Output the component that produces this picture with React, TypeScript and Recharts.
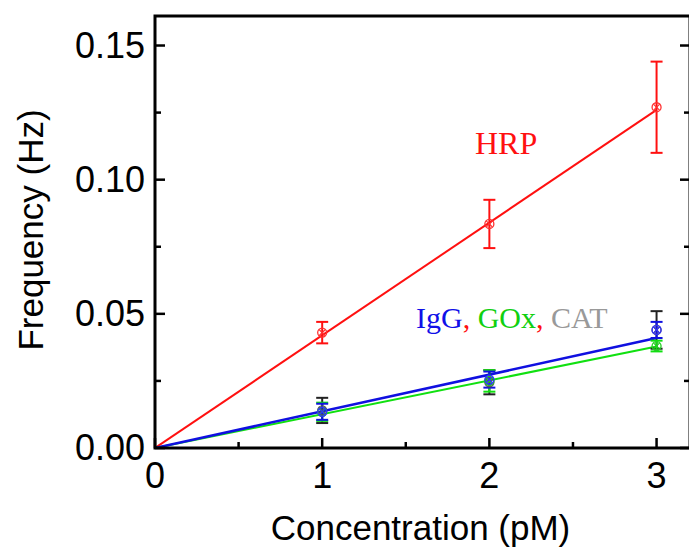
import React from 'react';
import { ComposedChart, Line, Scatter, ErrorBar, XAxis, YAxis, Label } from 'recharts';

// measured points (concentration in pM, frequency in Hz)
const conc = [1, 2, 3];
const hrpVals = [0.043, 0.0835, 0.127];
const hrpErr = [0.004, 0.009, 0.017];
const iggVals = [0.0135, 0.0255, 0.044];
const iggErr = [0.003, 0.003, 0.003];
const goxVals = [0.0135, 0.025, 0.038];
const goxErr = [0.0034, 0.004, 0.002];
const catVals = [0.014, 0.0245, 0.044];
const catErr = [0.0047, 0.0045, 0.007];

// linear fits
const fitX = [0, 3];
const hrpFit = [0, 0.126];
const iggFit = [0, 0.041];
const goxFit = [0, 0.0378];

const xDomain: [number, number] = [0, 3.2];
const yDomain: [number, number] = [0, 0.161];
const xTicks = [0, 0.5, 1, 1.5, 2, 2.5, 3];
const yTicks = [0, 0.025, 0.05, 0.075, 0.1, 0.125, 0.15];

const pts = (vals: number[], errs: number[]) => conc.map((x, i) => ({ x, y: vals[i], err: errs[i] }));
const fit = (vals: number[]) => fitX.map((x, i) => ({ x, y: vals[i] }));

const hrpData = pts(hrpVals, hrpErr);
const iggData = pts(iggVals, iggErr);
const goxData = pts(goxVals, goxErr);
const catData = pts(catVals, catErr);

const FONT = '"Liberation Sans", Arial, sans-serif';
const SERIF = '"Liberation Serif", "Times New Roman", serif';

const isMajorX = (v: number) => Math.abs(v - Math.round(v)) < 1e-6;
const isMajorY = (v: number) => Math.round(v * 1000) % 50 === 0;

const BottomTick = (props: any) => {
  const { x, y, payload } = props;
  const major = isMajorX(payload.value);
  return (
    <g>
      <line x1={x} y1={y} x2={x} y2={y - (major ? 10 : 6)} stroke="#000" strokeWidth={2.5} />
      {major && (
        <text x={x} y={y + 40} textAnchor="middle" fontSize={36} fontFamily={FONT} fill="#000">
          {payload.value}
        </text>
      )}
    </g>
  );
};

const TopTick = (props: any) => {
  const { x, y, payload } = props;
  const major = isMajorX(payload.value);
  return <line x1={x} y1={y} x2={x} y2={y + (major ? 10 : 6)} stroke="#000" strokeWidth={2.5} />;
};

const LeftTick = (props: any) => {
  const { x, y, payload } = props;
  const major = isMajorY(payload.value);
  return (
    <g>
      <line x1={x} y1={y} x2={x + (major ? 10 : 6)} y2={y} stroke="#000" strokeWidth={2.5} />
      {major && (
        <text x={x - 10} y={y + 12} textAnchor="end" fontSize={36} fontFamily={FONT} fill="#000">
          {payload.value.toFixed(2)}
        </text>
      )}
    </g>
  );
};

const RightTick = (props: any) => {
  const { x, y, payload } = props;
  const major = isMajorY(payload.value);
  return <line x1={x} y1={y} x2={x - (major ? 10 : 6)} y2={y} stroke="#000" strokeWidth={2.5} />;
};

const marker = (color: string) => (props: any) => {
  const { cx, cy } = props;
  const r = 4.5;
  const d = r * 0.7;
  return (
    <g>
      <circle cx={cx} cy={cy} r={r} fill="none" stroke={color} strokeWidth={1.3} />
      <line x1={cx - d} y1={cy - d} x2={cx + d} y2={cy + d} stroke={color} strokeWidth={1.2} />
      <line x1={cx - d} y1={cy + d} x2={cx + d} y2={cy - d} stroke={color} strokeWidth={1.2} />
    </g>
  );
};

const axisProps = {
  type: 'number' as const,
  allowDataOverflow: true,
  axisLine: false,
  tickLine: false,
  tickSize: 0,
  tickMargin: 0,
  interval: 0 as const,
};

export default function App() {
  return (
    <div style={{ position: 'absolute', left: 0, top: 0, width: 689, height: 551, overflow: 'hidden', background: '#fff' }}>
      <ComposedChart width={700} height={551} margin={{ top: 15, right: 9, bottom: 0, left: 0 }}>
        <XAxis {...axisProps} xAxisId="b" dataKey="x" domain={xDomain} ticks={xTicks} height={103} tick={<BottomTick />}>
          <Label
            content={({ viewBox }: any) => (
              <text
                x={viewBox.x + viewBox.width / 2 - 2}
                y={viewBox.y + 92}
                textAnchor="middle"
                fontSize={35}
                fontFamily={FONT}
                fill="#000"
              >
                Concentration (pM)
              </text>
            )}
          />
        </XAxis>
        <XAxis {...axisProps} xAxisId="t" orientation="top" domain={xDomain} ticks={xTicks} height={1} tick={<TopTick />} />
        <YAxis {...axisProps} yAxisId="l" dataKey="y" domain={yDomain} ticks={yTicks} width={155} tick={<LeftTick />}>
          <Label
            content={({ viewBox }: any) => {
              const cx = 30;
              const cy = viewBox.y + viewBox.height / 2 - 2;
              return (
                <text
                  x={cx}
                  y={cy}
                  transform={`rotate(-90, ${cx}, ${cy})`}
                  textAnchor="middle"
                  dominantBaseline="central"
                  fontSize={35}
                  fontFamily={FONT}
                  fill="#000"
                >
                  Frequency (Hz)
                </text>
              );
            }}
          />
        </YAxis>
        <YAxis {...axisProps} yAxisId="r" orientation="right" domain={yDomain} ticks={yTicks} width={1} tick={<RightTick />} />

        <Line xAxisId="b" yAxisId="l" data={fit(hrpFit)} dataKey="y" stroke="#ff1010" strokeWidth={2} dot={false} isAnimationActive={false} />
        <Line xAxisId="b" yAxisId="l" data={fit(goxFit)} dataKey="y" stroke="#10e010" strokeWidth={2} dot={false} isAnimationActive={false} />
        <Line xAxisId="b" yAxisId="l" data={fit(iggFit)} dataKey="y" stroke="#1010e0" strokeWidth={2.5} dot={false} isAnimationActive={false} />

        <Scatter xAxisId="b" yAxisId="l" data={hrpData} dataKey="y" shape={marker('#ff3030')} isAnimationActive={false}>
          <ErrorBar dataKey="err" direction="y" width={6} stroke="#ff1010" strokeWidth={2} />
        </Scatter>
        <Scatter xAxisId="b" yAxisId="l" data={catData} dataKey="y" shape={marker('#555')} isAnimationActive={false}>
          <ErrorBar dataKey="err" direction="y" width={6} stroke="#222" strokeWidth={2} />
        </Scatter>
        <Scatter xAxisId="b" yAxisId="l" data={goxData} dataKey="y" shape={marker('#20d020')} isAnimationActive={false}>
          <ErrorBar dataKey="err" direction="y" width={6} stroke="#10e010" strokeWidth={2} />
        </Scatter>
        <Scatter xAxisId="b" yAxisId="l" data={iggData} dataKey="y" shape={marker('#3030ff')} isAnimationActive={false}>
          <ErrorBar dataKey="err" direction="y" width={6} stroke="#1010e0" strokeWidth={2} />
        </Scatter>
      </ComposedChart>

      <svg width={689} height={551} style={{ position: 'absolute', left: 0, top: 0, pointerEvents: 'none' }}>
        {/* plot frame */}
        <rect x={155} y={16} width={535} height={432} fill="none" stroke="#000" strokeWidth={3} />
        <text x={475} y={154} fontSize={32} fontFamily={SERIF} fill="#ff1010">
          HRP
        </text>
        <text x={416} y={328} fontSize={30} fontFamily={SERIF}>
          <tspan fill="#1010e8">IgG</tspan>
          <tspan fill="#ff1010">,</tspan>
          <tspan fill="#10d010"> GOx</tspan>
          <tspan fill="#ff1010">,</tspan>
          <tspan fill="#999"> CAT</tspan>
        </text>
      </svg>
    </div>
  );
}
